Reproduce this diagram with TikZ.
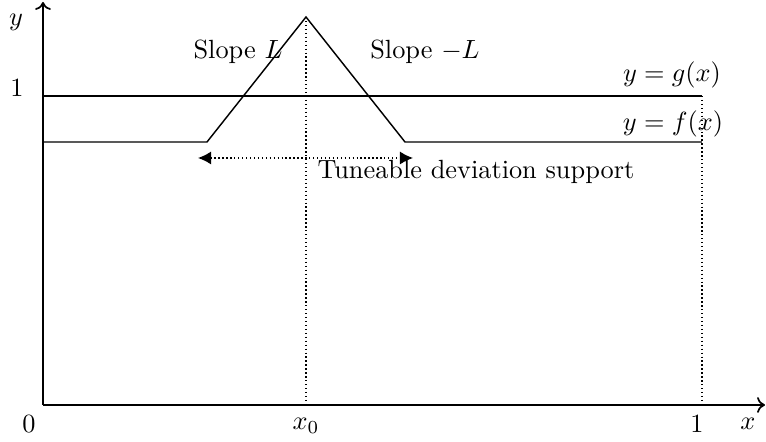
\documentclass[tikz,border=0pt]{standalone}
\usetikzlibrary{arrows.meta}
\begin{document}
\begin{tikzpicture}[x=0.38pt,y=-0.38pt,
  axis/.style={line width=0.65pt,-{To[length=3pt,width=6pt]}},
  curve/.style={line width=0.55pt},
  guide/.style={densely dotted,line width=0.5pt},
  lbl/.style={inner sep=0pt}]
\useasboundingbox (0,0) rectangle (766,442);
\coordinate (O) at (43,405);
\coordinate (Ytop) at (43,2);
\coordinate (Xend) at (765,405);
\coordinate (G0) at (43,96);
\coordinate (G1) at (702,96);
\coordinate (F0) at (43,142);
\coordinate (A) at (207,142);
\coordinate (P) at (306,17);
\coordinate (B) at (405,142);
\coordinate (F1) at (702,142);
\coordinate (X0) at (306,405);
\coordinate (X1) at (702,405);
\coordinate (D0) at (198,158);
\coordinate (D1) at (413,158);
% axes
\draw[axis] (O) -- (Ytop);
\draw[axis] (O) -- (Xend);
% guides
\draw[guide] (P) -- (X0);
\draw[guide] (G1) -- (X1);
% curves
\draw[curve] (G0) -- (G1);
\draw[curve] (F0) -- (A) -- (P) -- (B) -- (F1);
% support arrow
\draw[guide,{Latex[length=5pt,width=5pt]}-{Latex[length=5pt,width=5pt]}] (D0) -- (D1);
% labels
\node[lbl] (ly) at (16,22) {$y$};
\node[lbl] (l1y) at (17,88) {$1$};
\node[lbl] (l0) at (29,424) {$0$};
\node[lbl] (lx0) at (306,426) {$x_0$};
\node[lbl] (l1x) at (697,424) {$1$};
\node[lbl] (lx) at (748,424) {$x$};
\node[lbl] (sl) at (238,52) {Slope $L$};
\node[lbl] (sr) at (425,52) {Slope $-L$};
\node[lbl] (lg) at (672,75) {$y=g(x)$};
\node[lbl] (lf) at (673,124) {$y=f(x)$};
\node[lbl,anchor=west] (ts) at (317,172) {Tuneable deviation support};
\end{tikzpicture}
\end{document}
